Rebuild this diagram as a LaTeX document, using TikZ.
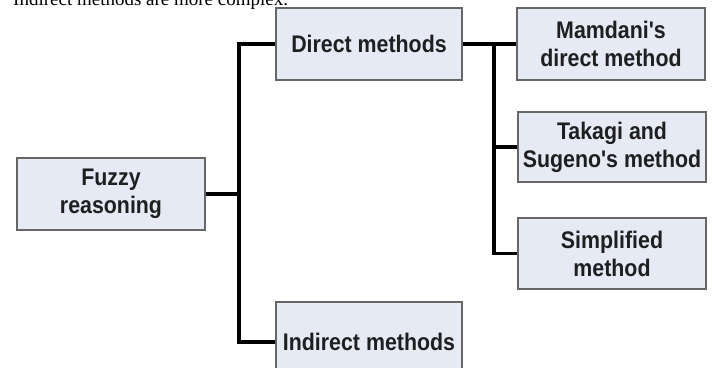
\documentclass[tikz,border=0pt]{standalone}
\usepackage{fontspec}
\setmainfont{Liberation Serif}
\newfontfamily\boxfont[FakeStretch=0.89]{Liberation Sans Bold}
\definecolor{boxfill}{HTML}{E5EAF5}
\definecolor{boxline}{HTML}{666666}
\tikzset{
  x=1pt, y=-1pt,
  mbox/.style={draw=boxline, line width=1.6pt, fill=boxfill, minimum width=188pt, minimum height=72pt,
    inner sep=0pt, align=center, font=\boxfont\fontsize{24}{28}\selectfont, text=black!88},
  link/.style={line width=3.8pt, black}
}
\begin{document}
\begin{tikzpicture}
\useasboundingbox (0,0) rectangle (712,367);
\clip (0,0) rectangle (712,367);
\node[anchor=base west, font=\fontsize{19}{23}\selectfont, inner sep=0pt] (cap) at (13,5.5) {Indirect methods are more complex.};
\node[mbox] (fuzzy) at (111,194) {Fuzzy\\reasoning};
\node[mbox, minimum width=186pt] (direct) at (369,44) {Direct methods};
\node[mbox, minimum width=186pt, minimum height=80pt] (indirect) at (369,342) {Indirect methods};
\node[mbox] (mamdani) at (611,44) {Mamdani's\\direct method};
\node[mbox, minimum height=70pt] (takagi) at (612,147) {Takagi and\\Sugeno's method};
\node[mbox, minimum height=71pt] (simple) at (612,253.5) {Simplified\\method};
\coordinate (t1) at (239,194);
\coordinate (t2) at (494,44);
\draw[link] (fuzzy.east) -- (t1);
\draw[link] (direct.west) -| (t1);
\draw[link] (indirect.west) -| (t1);
\draw[link] (direct.east) -- (mamdani.west);
\draw[link] (takagi.west) -| (t2);
\draw[link] (simple.west) -| (t2);
\end{tikzpicture}
\end{document}
